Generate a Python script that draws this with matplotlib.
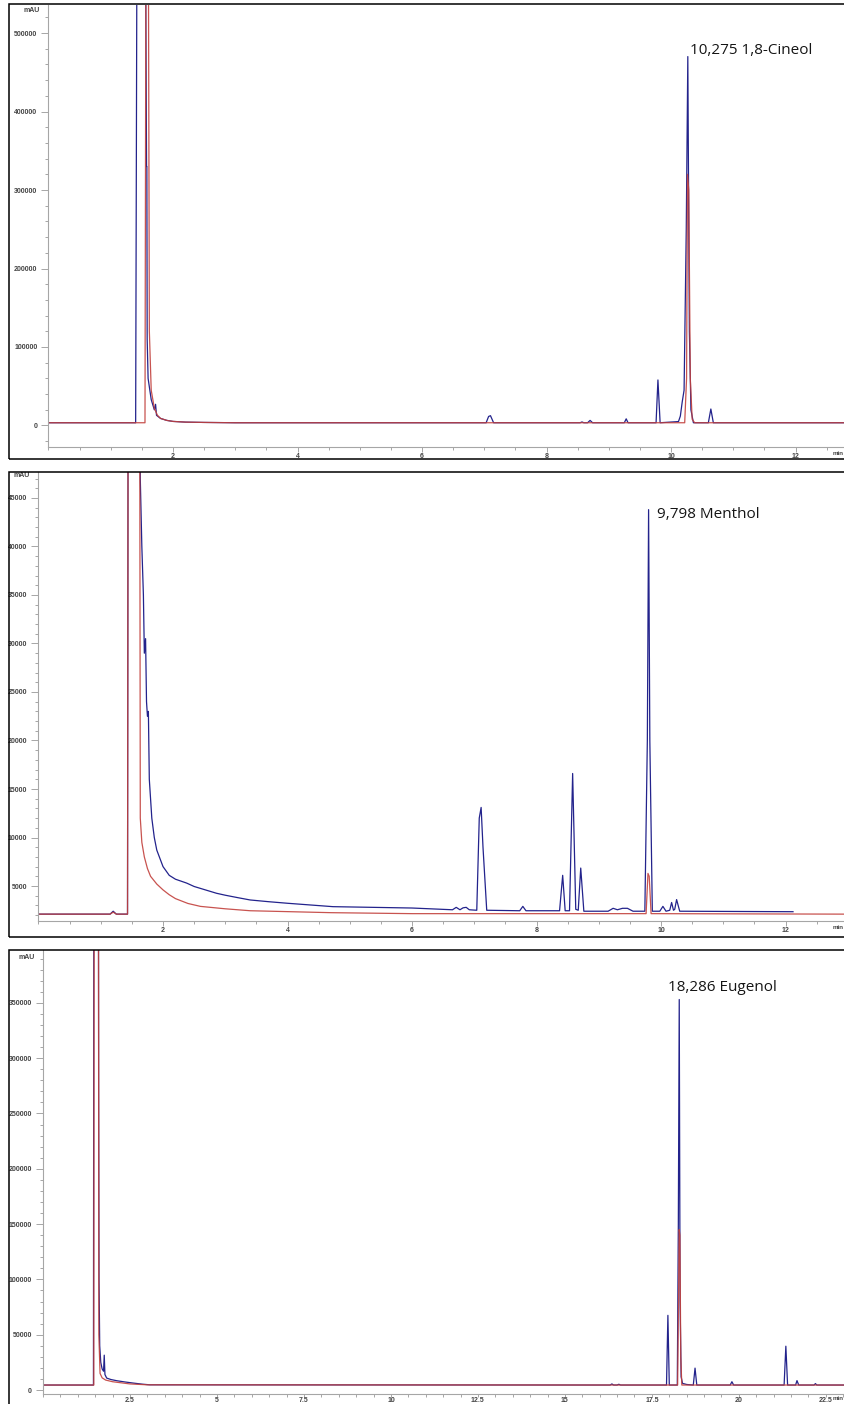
import matplotlib.pyplot as plt
from matplotlib.patches import Rectangle
from matplotlib.ticker import MultipleLocator, FixedLocator, FuncFormatter

# ---- top panel: 1,8-Cineol (time in min, signal in mAU)
top_blue_t = [0.00, 1.40, 1.42, 1.56, 1.575, 1.58, 1.585, 1.60, 1.65, 1.70,
              1.72, 1.735, 1.80, 1.90, 2.00, 2.20, 2.50, 3.00,
              7.03, 7.07, 7.10, 7.15, 8.54, 8.57, 8.60, 8.66, 8.70, 8.74,
              9.25, 9.28, 9.31, 9.76, 9.79, 9.825,
              10.12, 10.15, 10.18, 10.21, 10.245, 10.27, 10.295, 10.32, 10.36,
              10.60, 10.64, 10.68, 12.80]
top_blue_v = [3500, 3500, 600000, 600000, 330000, 330000, 110000, 60000, 33000, 20000,
              27000, 13000, 9000, 6500, 5200, 4300, 3900, 3500,
              3500, 11500, 12500, 3500, 3500, 4500, 3500, 3500, 6500, 3500,
              3500, 8500, 3500, 3500, 58000, 3500,
              5000, 12000, 30000, 45000, 250000, 470000, 120000, 20000, 3500,
              3500, 21000, 3500, 3500]
top_red_t = [0.00, 1.55, 1.565, 1.605, 1.62, 1.65, 1.70, 1.75, 1.80, 1.90,
             2.00, 2.20, 2.50, 3.00, 10.22, 10.25, 10.265, 10.285, 10.31,
             10.34, 10.38, 12.80]
top_red_v = [3500, 3500, 600000, 600000, 120000, 45000, 22000, 13000, 9000, 6500,
             5200, 4300, 3900, 3500, 3500, 60000, 320000, 300000, 60000,
             8000, 3500, 3500]

# ---- middle panel: Menthol
mid_blue_t = [0.00, 1.15, 1.20, 1.25, 1.43, 1.44, 1.625, 1.635, 1.66, 1.685,
              1.70, 1.72, 1.735, 1.75, 1.765, 1.78, 1.82, 1.86, 1.90, 2.00,
              2.10, 2.20, 2.38, 2.50, 2.86, 3.00, 3.20, 3.40, 3.70, 4.00,
              4.73, 6.00, 6.65, 6.71, 6.77, 6.82, 6.87, 6.92, 7.04, 7.08,
              7.11, 7.14, 7.20, 7.73, 7.78, 7.83, 8.37, 8.42, 8.46, 8.53,
              8.58, 8.63, 8.67, 8.71, 8.76, 9.15, 9.23, 9.30, 9.38, 9.46,
              9.55, 9.74, 9.78, 9.80, 9.82, 9.86, 9.98, 10.03, 10.08, 10.14,
              10.17, 10.20, 10.22, 10.25, 10.30, 12.12]
mid_blue_v = [2100, 2100, 2400, 2100, 2100, 60000, 60000, 47000, 40000, 35000,
              29000, 30500, 24000, 22500, 23000, 16000, 12000, 10000, 8700, 7000,
              6100, 5700, 5300, 4950, 4250, 4050, 3800, 3560, 3380, 3220,
              2870, 2730, 2550, 2800, 2550, 2750, 2800, 2550, 2500, 12000,
              13100, 9000, 2500, 2450, 2900, 2450, 2450, 6100, 2450, 2450,
              16600, 2600, 2500, 6850, 2400, 2400, 2700, 2550, 2700, 2700,
              2400, 2400, 20000, 43800, 20000, 2400, 2400, 2900, 2400, 2500,
              3300, 2500, 2600, 3600, 2400, 2350]
mid_red_t = [0.00, 1.15, 1.20, 1.25, 1.43, 1.44, 1.625, 1.635, 1.66, 1.70,
             1.75, 1.80, 1.90, 2.00, 2.10, 2.20, 2.40, 2.60, 3.00, 3.40,
             4.70, 6.00, 9.76, 9.79, 9.81, 9.84, 12.95]
mid_red_v = [2100, 2100, 2300, 2100, 2100, 60000, 60000, 12000, 9500, 8000,
             6800, 6000, 5200, 4600, 4100, 3700, 3200, 2900, 2650, 2450,
             2250, 2150, 2150, 6300, 6000, 2150, 2100]

# ---- bottom panel: Eugenol
bot_blue_t = [0.00, 1.45, 1.46, 1.595, 1.60, 1.61, 1.63, 1.66, 1.70, 1.74,
              1.76, 1.78, 1.83, 1.95, 2.12, 2.35, 2.59, 2.85, 3.07, 16.30,
              16.35, 16.40, 16.50, 16.55, 16.60, 17.92, 17.96, 18.00, 18.23, 18.26,
              18.286, 18.31, 18.34, 18.38, 18.50, 18.69, 18.74, 18.79, 19.75, 19.80,
              19.85, 21.30, 21.35, 21.40, 21.63, 21.67, 21.72, 22.16, 22.20, 22.24,
              23.05]
bot_blue_v = [4500, 4500, 420000, 420000, 268000, 100000, 40000, 25000, 19000, 17000,
              31500, 14000, 10800, 9500, 8400, 7300, 6300, 5300, 4700, 4500,
              5500, 4500, 4500, 5200, 4500, 4500, 67500, 4500, 4500, 150000,
              353000, 80000, 12000, 6000, 5000, 4500, 19800, 4500, 4500, 7500,
              4500, 4500, 39600, 4500, 4500, 8500, 4500, 4500, 5800, 4500,
              4500]
bot_red_t = [0.00, 1.46, 1.47, 1.595, 1.605, 1.64, 1.70, 1.80, 2.00, 2.50,
             3.00, 18.24, 18.265, 18.285, 18.305, 18.33, 18.36, 23.05]
bot_red_v = [4500, 4500, 420000, 420000, 50000, 15000, 11000, 9000, 7500, 5500,
             4700, 4500, 80000, 145000, 140000, 30000, 4500, 4500]

BLUE = '#23238c'
RED = '#c2403c'
GRAY = '#a6a6a6'
TXT = '#444444'
W, H = 845, 1404

fig = plt.figure(figsize=(W / 100, H / 100), dpi=100)


def px_axes(left, top, bottom):
    return fig.add_axes([left / W, (H - bottom) / H, (W - left) / W, (bottom - top) / H])


def frame(top, bottom):
    fig.add_artist(Rectangle((9 / W, (H - bottom) / H), 1.0, (bottom - top) / H,
                             transform=fig.transFigure, fill=False,
                             ec='black', lw=1.1, zorder=10))


def style(ax, xlim, ylim, xmaj, ymaj, ymin, mau_y, label, label_xy, xlen=3.5, xpad=1):
    ax.set_xlim(*xlim)
    ax.set_ylim(*ylim)
    for s in ['top', 'right']:
        ax.spines[s].set_visible(False)
    for s in ['left', 'bottom']:
        ax.spines[s].set_color(GRAY)
        ax.spines[s].set_linewidth(0.8)
    ax.xaxis.set_major_locator(FixedLocator(xmaj))
    ax.xaxis.set_major_formatter(FuncFormatter(lambda v, p: '%g' % v))
    ax.xaxis.set_minor_locator(MultipleLocator(0.5))
    ax.yaxis.set_major_locator(FixedLocator(ymaj))
    ax.yaxis.set_major_formatter(FuncFormatter(lambda v, p: '%d' % v))
    ax.yaxis.set_minor_locator(MultipleLocator(ymin))
    ax.tick_params(axis='both', which='both', color=GRAY, width=0.7,
                   labelsize=5, labelcolor=TXT)
    ax.tick_params(axis='y', which='major', length=5, pad=3)
    ax.tick_params(axis='y', which='minor', length=2.5)
    ax.tick_params(axis='x', which='major', length=xlen, pad=xpad)
    ax.tick_params(axis='x', which='minor', length=2.5)
    for t in ax.get_xticklabels() + ax.get_yticklabels():
        t.set_family('Liberation Sans')
        t.set_weight('bold')
    ax.annotate('mAU', xy=(0, mau_y), xycoords=('axes fraction', 'data'),
                xytext=(-6, 0), textcoords='offset points', ha='right', va='center',
                fontsize=5, color=TXT, family='Liberation Sans', weight='bold')
    # unit at the right end of the time axis
    ax.annotate('min', xy=(1, 0), xycoords='axes fraction',
                xytext=(-1, -4.5 if xlen > 3 else -3.2), textcoords='offset points',
                ha='right', va='center', fontsize=4.5, color=TXT,
                family='Liberation Sans', weight='bold', annotation_clip=False)
    ax.text(label_xy[0], label_xy[1], label, fontsize=11, family='Open Sans',
            color='#151515', ha='left', va='center')


# top
ax1 = px_axes(48.5, 5, 447)
ax1.plot(top_blue_t, top_blue_v, color=BLUE, lw=0.9)
ax1.plot(top_red_t, top_red_v, color=RED, lw=0.9, alpha=0.9)
style(ax1, (0, 12.795), (-27400, 535700), [2, 4, 6, 8, 10, 12],
      [0, 100000, 200000, 300000, 400000, 500000], 20000, 529000,
      '10,275 1,8-Cineol', (10.30, 478000))
frame(4, 459)

# middle
ax2 = px_axes(38.5, 472, 921)
ax2.plot(mid_blue_t, mid_blue_v, color=BLUE, lw=0.9)
ax2.plot(mid_red_t, mid_red_v, color=RED, lw=0.9, alpha=0.9)
style(ax2, (0, 12.955), (1392, 47680), [2, 4, 6, 8, 10, 12],
      [5000, 10000, 15000, 20000, 25000, 30000, 35000, 40000, 45000], 1000,
      47270, '9,798 Menthol', (9.94, 43250))
frame(472, 937)

# bottom
ax3 = px_axes(43, 950, 1394)
ax3.plot(bot_blue_t, bot_blue_v, color=BLUE, lw=0.9)
ax3.plot(bot_red_t, bot_red_v, color=RED, lw=0.9, alpha=0.9)
style(ax3, (0, 23.05), (-3600, 397750),
      [2.5, 5, 7.5, 10, 12.5, 15, 17.5, 20, 22.5],
      [0, 50000, 100000, 150000, 200000, 250000, 300000, 350000], 10000,
      391400, '18,286 Eugenol', (17.96, 363500), xlen=2, xpad=0.3)
frame(950, 1410)

fig.savefig('out.png', dpi=100)
